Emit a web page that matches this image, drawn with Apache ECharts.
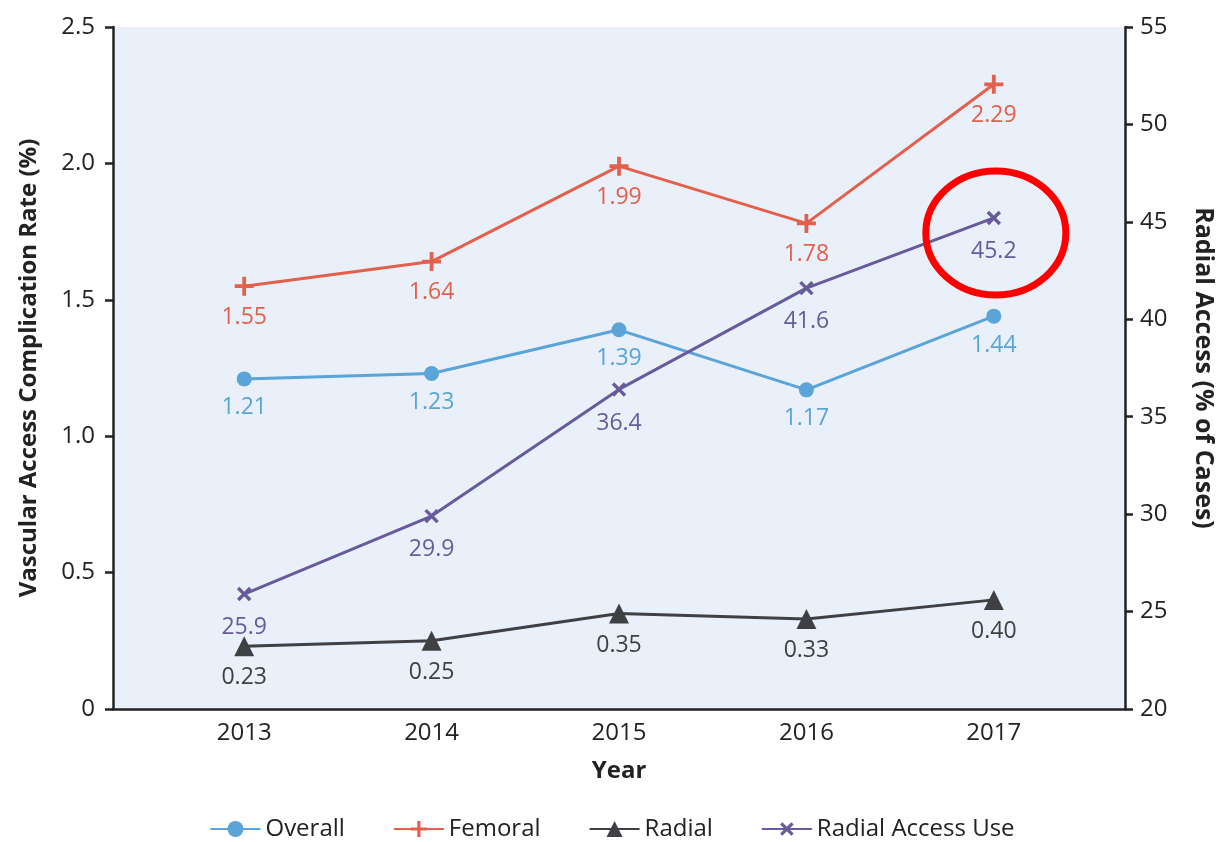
<!DOCTYPE html>
<html>
<head>
<meta charset="utf-8">
<script src="https://cdn.jsdelivr.net/npm/echarts@6/dist/echarts.min.js"></script>
<style>
  html, body { margin: 0; padding: 0; background: #fff; }
  #chart { width: 1224px; height: 842px; }
</style>
</head>
<body>
<div id="chart"></div>
<script>
// data
var years = [2013, 2014, 2015, 2016, 2017]
var overall = [1.21, 1.23, 1.39, 1.17, 1.44]
var femoral = [1.55, 1.64, 1.99, 1.78, 2.29]
var radial = [0.23, 0.25, 0.35, 0.33, 0.40]
var radialUse = [25.9, 29.9, 36.4, 41.6, 45.2]
var leftTicks = [0, 0.5, 1.0, 1.5, 2.0, 2.5]
var rightTicks = [20, 25, 30, 35, 40, 45, 50, 55]

function pairs(vals) {
  return vals.map(function (v, i) { return [years[i], v] })
}

var font = '"Open Sans", "Noto Sans", sans-serif'
var plusPath = 'path://M4,0h2v4h4v2h-4v4h-2v-4h-4v-2h4z'

function lineSeries(name, vals, color, symbol, size, yIdx, digits, extra) {
  var s = {
    name: name,
    type: 'line',
    yAxisIndex: yIdx,
    data: pairs(vals),
    symbol: symbol,
    symbolSize: size,
    color: color,
    lineStyle: { color: color, width: 3 },
    itemStyle: { color: color },
    label: {
      show: true,
      position: 'bottom',
      distance: 10,
      color: color,
      fontFamily: font,
      fontSize: 23,
      formatter: function (p) { return p.value[1].toFixed(digits) }
    },
    z: 3
  }
  for (var k in extra) s[k] = extra[k]
  return s
}

var chart = echarts.init(document.getElementById('chart'))
var option = {
  animation: false,
  textStyle: { fontFamily: font },
  grid: {
    left: 113, right: 91, top: 27, bottom: 133,
    show: true, backgroundColor: '#e9f0f9', borderWidth: 0
  },
  legend: {
    top: 812,
    left: 'center',
    itemWidth: 50,
    itemHeight: 20,
    itemGap: 48,
    textStyle: { fontFamily: font, fontSize: 24, color: '#222' },
    data: ['Overall', 'Femoral', 'Radial', 'Radial Access Use']
  },
  xAxis: {
    type: 'value',
    min: 2012.3,
    max: 2017.7,
    name: 'Year',
    nameLocation: 'middle',
    nameGap: 50,
    nameTextStyle: { fontFamily: font, fontSize: 24, fontWeight: 'bold', color: '#222' },
    axisLine: { lineStyle: { color: '#222', width: 2.5 } },
    axisTick: { show: false },
    splitLine: { show: false },
    axisLabel: {
      customValues: years,
      margin: 12,
      fontSize: 24, color: '#222', fontFamily: font,
      formatter: function (v) { return String(v) }
    }
  },
  yAxis: [{
    type: 'value',
    min: leftTicks[0],
    max: leftTicks[leftTicks.length - 1],
    interval: 0.5,
    name: 'Vascular Access Complication Rate (%)',
    nameLocation: 'middle',
    nameRotate: 90,
    nameGap: 72,
    nameTextStyle: { fontFamily: font, fontSize: 24, fontWeight: 'bold', color: '#222' },
    axisLine: { show: true, lineStyle: { color: '#222', width: 2.5 } },
    axisTick: { show: true, length: 8, lineStyle: { color: '#222', width: 2.5 } },
    splitLine: { show: false },
    axisLabel: {
      fontSize: 24, color: '#222', fontFamily: font, margin: 18,
      formatter: function (v) { return v === 0 ? '0' : v.toFixed(1) }
    }
  }, {
    type: 'value',
    min: rightTicks[0],
    max: rightTicks[rightTicks.length - 1],
    interval: 5,
    position: 'right',
    name: 'Radial Access (% of Cases)',
    nameLocation: 'middle',
    nameRotate: -90,
    nameGap: 66,
    nameTextStyle: { fontFamily: font, fontSize: 25, fontWeight: 'bold', color: '#222' },
    axisLine: { show: true, lineStyle: { color: '#222', width: 2.5 } },
    axisTick: { show: true, length: 8, lineStyle: { color: '#222', width: 2.5 } },
    splitLine: { show: false },
    axisLabel: { fontSize: 24, color: '#222', fontFamily: font, margin: 15 }
  }],
  series: [
    lineSeries('Overall', overall, '#5aa4d8', 'circle', 15, 0, 2, {}),
    lineSeries('Femoral', femoral, '#e2604c', plusPath, 19, 0, 2, {}),
    lineSeries('Radial', radial, '#3f4044', 'triangle', 20, 0, 2, {}),
    lineSeries('Radial Access Use', radialUse, '#675b9c', plusPath, 17, 1, 1, { symbolRotate: 45 })
  ]
}
chart.setOption(option)

// red highlight ring around the last radial-use point
var c = chart.convertToPixel({ seriesIndex: 3 }, [years[4], radialUse[4]])
chart.setOption({
  graphic: [{
    type: 'ellipse',
    shape: { cx: c[0] + 2, cy: c[1] + 15, rx: 70, ry: 62 },
    style: { fill: null, stroke: '#ff0000', lineWidth: 7 },
    z: 10
  }]
})
</script>
</body>
</html>
